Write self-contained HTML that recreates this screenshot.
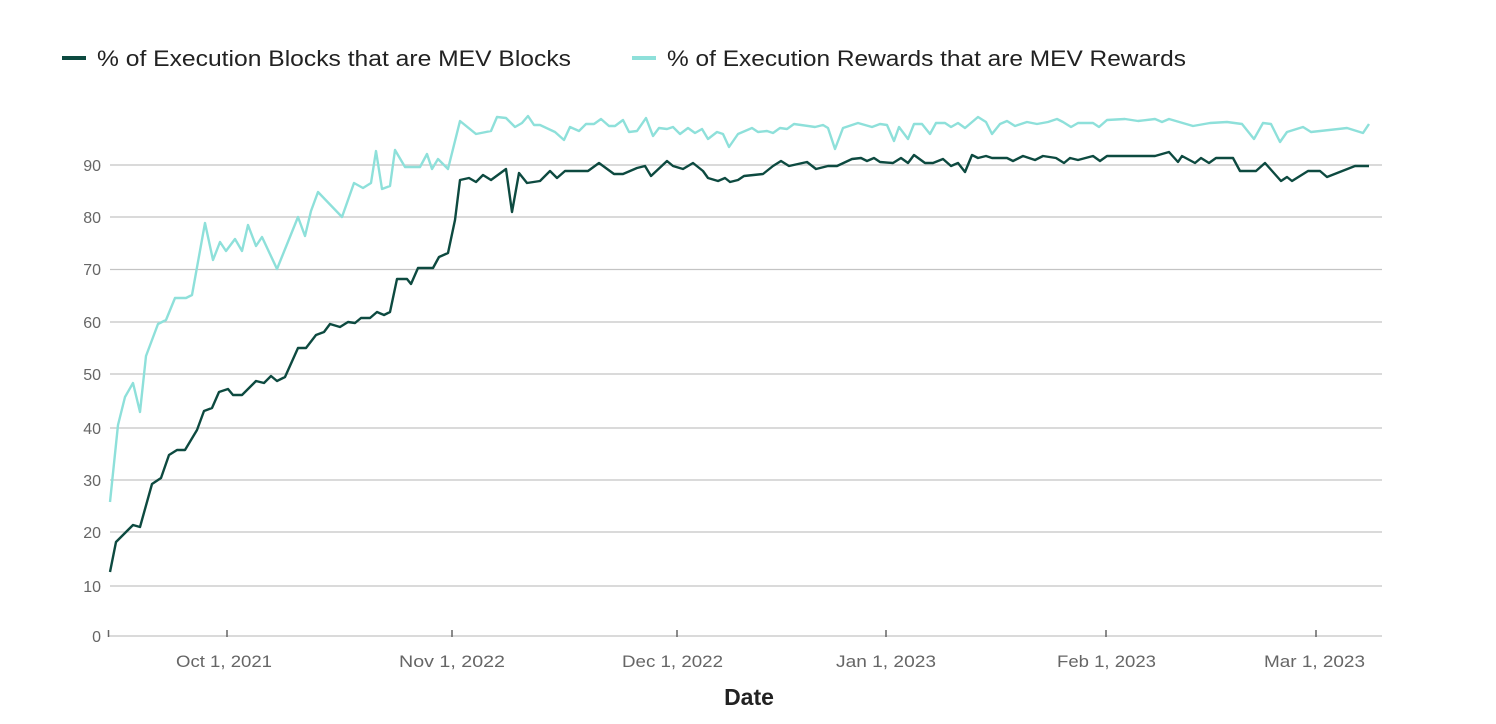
<!DOCTYPE html>
<html><head><meta charset="utf-8"><style>
body{margin:0;background:#fff;}
svg{display:block;font-family:"Liberation Sans",sans-serif;}
</style></head><body>
<svg width="1496" height="724" viewBox="0 0 1496 724">
<g stroke="#c4c4c4" stroke-width="1.3">
<line x1="110" x2="1382" y1="165" y2="165"/>
<line x1="110" x2="1382" y1="217" y2="217"/>
<line x1="110" x2="1382" y1="269.5" y2="269.5"/>
<line x1="110" x2="1382" y1="322" y2="322"/>
<line x1="110" x2="1382" y1="374" y2="374"/>
<line x1="110" x2="1382" y1="428" y2="428"/>
<line x1="110" x2="1382" y1="480" y2="480"/>
<line x1="110" x2="1382" y1="532" y2="532"/>
<line x1="110" x2="1382" y1="586" y2="586"/>
<line x1="108" x2="1382" y1="636" y2="636"/>
</g>
<g stroke="#666" stroke-width="1.5">
<line x1="108.5" x2="108.5" y1="630" y2="637"/>
<line x1="227" x2="227" y1="630" y2="637"/>
<line x1="452" x2="452" y1="630" y2="637"/>
<line x1="677" x2="677" y1="630" y2="637"/>
<line x1="886" x2="886" y1="630" y2="637"/>
<line x1="1106" x2="1106" y1="630" y2="637"/>
<line x1="1316" x2="1316" y1="630" y2="637"/>
</g>
<g fill="#666" font-size="16" text-anchor="end">
<text x="101" y="171">90</text><text x="101" y="223">80</text><text x="101" y="275">70</text><text x="101" y="328">60</text><text x="101" y="380">50</text><text x="101" y="434">40</text><text x="101" y="486">30</text><text x="101" y="538">20</text><text x="101" y="592">10</text><text x="101" y="642">0</text>
</g>
<g fill="#666" font-size="17">
<text x="176" y="667" textLength="96" lengthAdjust="spacingAndGlyphs">Oct 1, 2021</text>
<text x="399" y="667" textLength="106" lengthAdjust="spacingAndGlyphs">Nov 1, 2022</text>
<text x="622" y="667" textLength="101" lengthAdjust="spacingAndGlyphs">Dec 1, 2022</text>
<text x="836" y="667" textLength="100" lengthAdjust="spacingAndGlyphs">Jan 1, 2023</text>
<text x="1057" y="667" textLength="99" lengthAdjust="spacingAndGlyphs">Feb 1, 2023</text>
<text x="1264" y="667" textLength="101" lengthAdjust="spacingAndGlyphs">Mar 1, 2023</text>
</g>
<text x="749" y="705" text-anchor="middle" font-size="23" font-weight="bold" fill="#222">Date</text>
<line x1="62" x2="86" y1="58" y2="58" stroke="#0d4a40" stroke-width="4"/>
<text x="97" y="66" font-size="22" fill="#222" textLength="474" lengthAdjust="spacingAndGlyphs">% of Execution Blocks that are MEV Blocks</text>
<line x1="632" x2="656" y1="58" y2="58" stroke="#8ee0da" stroke-width="4"/>
<text x="667" y="66" font-size="22" fill="#222" textLength="519" lengthAdjust="spacingAndGlyphs">% of Execution Rewards that are MEV Rewards</text>
<polyline fill="none" stroke="#8ee0da" stroke-width="2.4" stroke-linejoin="round" points="110,502 118,425 125,397 133,383 140,412 146,356 158,324 166,320 175,298 186,298 192,295 205,223 213,260 220,242 226,251 235,239 242,251 248,225 256,246 262,237 277,269 298,217 305,236 311,211 318,192 342,217 354,183 363,188 371,183 376,151 382,189 390,186 395,150 405,167 420,167 427,154 432,169 438,159 448,169 460,121 476,134 491,131 497,117 506,118 515,127 522,123 528,116 534,125 540,125 555,132 564,140 570,127 579,131 586,124 594,124 601,119 609,126 615,126 623,120 629,132 637,131 646,118 653,136 659,128 667,129 673,127 680,134 688,128 695,133 702,129 708,139 717,132 723,134 729,147 738,134 752,128 758,132 767,131 773,133 780,128 787,129 794,124 815,127 823,125 828,128 835,149 843,128 858,123 872,127 880,124 887,125 894,141 899,127 908,139 914,124 922,124 930,134 936,123 945,123 951,127 958,123 965,128 978,117 986,122 992,134 1000,124 1007,121 1015,126 1027,122 1037,124 1048,122 1057,119 1063,122 1071,127 1078,123 1093,123 1099,127 1107,120 1125,119 1138,121 1155,119 1162,122 1169,119 1193,126 1210,123 1227,122 1242,124 1254,139 1263,123 1271,124 1280,142 1287,132 1303,127 1311,132 1347,128 1363,133 1369,124"/>
<polyline fill="none" stroke="#0d4a40" stroke-width="2.4" stroke-linejoin="round" points="110,572 116,542 122,536 133,525 140,527 152,484 161,478 169,455 177,450 185,450 197,430 204,411 212,408 219,392 228,389 233,395 242,395 256,381 264,383 271,376 277,381 285,377 298,348 306,348 316,335 324,332 330,324 340,327 348,322 355,323 361,318 370,318 377,312 384,315 390,312 397,279 407,279 411,284 418,268 433,268 439,257 448,253 455,220 460,180 469,178 476,182 483,175 491,180 506,169 512,212 519,173 527,183 540,181 550,171 557,178 565,171 588,171 599,163 614,174 623,174 637,168 645,166 651,176 667,161 673,166 683,169 693,163 703,171 708,178 718,181 725,178 730,182 738,180 744,176 763,174 773,166 781,161 789,166 807,162 816,169 828,166 837,166 852,159 861,158 867,161 874,158 880,162 893,163 901,158 908,163 914,155 925,163 933,163 943,159 951,166 958,163 965,172 972,155 978,158 986,156 992,158 1007,158 1013,161 1023,156 1035,160 1043,156 1056,158 1064,163 1070,158 1078,160 1093,156 1100,161 1107,156 1155,156 1169,152 1178,162 1182,156 1195,163 1201,158 1209,163 1216,158 1233,158 1240,171 1256,171 1265,163 1281,181 1287,177 1292,181 1308,171 1320,171 1327,177 1355,166 1369,166"/>
</svg>
</body></html>
